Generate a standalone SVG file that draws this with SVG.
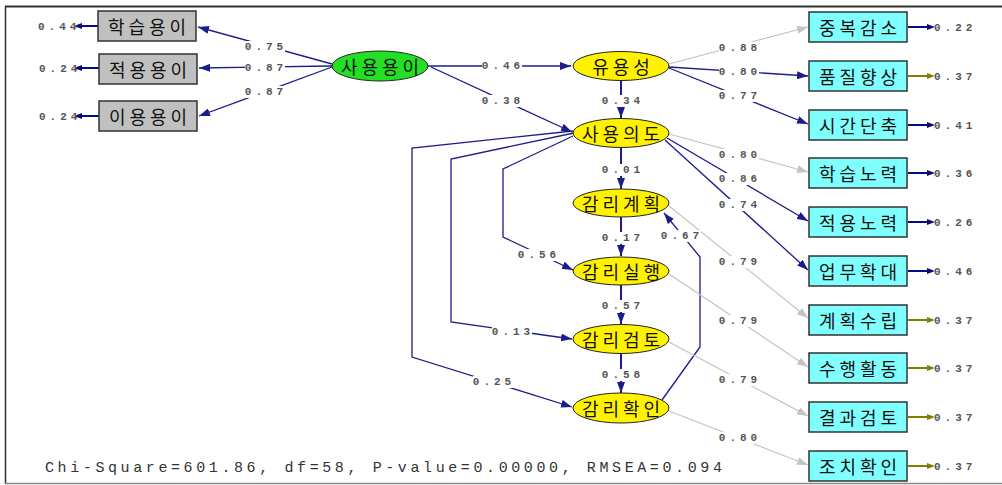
<svg xmlns="http://www.w3.org/2000/svg" width="1002" height="485" viewBox="0 0 1002 485">
<defs>
<style>
.ko{font-family:"Noto Sans CJK KR","Noto Sans",sans-serif;font-size:18px;letter-spacing:4px;text-anchor:middle;dominant-baseline:central;fill:#111}
.num{font-family:"Liberation Mono","DejaVu Sans Mono",monospace;font-size:11px;font-weight:bold;letter-spacing:4px;text-anchor:middle;dominant-baseline:central;fill:#555}
.err{font-family:"Liberation Mono","DejaVu Sans Mono",monospace;font-size:11px;font-weight:bold;letter-spacing:4px;dominant-baseline:central;fill:#555}
.bg{fill:#fff}
.box{fill:#80ffff;stroke:#333;stroke-width:1.5}
.gbox{fill:#c0c0c0;stroke:#333;stroke-width:1.5}
.ell{stroke:#222;stroke-width:1}
.nv{fill:none;stroke:#1c1c8c;stroke-width:1.3;marker-end:url(#an)}
.nvv{fill:none;stroke:#1c1c8c;stroke-width:2;marker-end:url(#an)}
.gr{fill:none;stroke:#c4c4c4;stroke-width:1.2;marker-end:url(#ag)}
.en{fill:none;stroke:#0a0a80;stroke-width:2;marker-end:url(#en)}
.eo{fill:none;stroke:#808000;stroke-width:2;marker-end:url(#eo)}
</style>
<marker id="an" markerUnits="userSpaceOnUse" markerWidth="12" markerHeight="8" refX="11" refY="4" orient="auto"><path d="M0,0 L11,4 L0,8 z" fill="#1c1c8c"/></marker>
<marker id="ag" markerUnits="userSpaceOnUse" markerWidth="12" markerHeight="8" refX="11" refY="4" orient="auto"><path d="M0,0 L11,4 L0,8 z" fill="#c4c4c4"/></marker>
<marker id="en" markerUnits="userSpaceOnUse" markerWidth="8" markerHeight="6" refX="4" refY="3" orient="auto"><path d="M0,0 L8,3 L0,6 z" fill="#0a0a80"/></marker>
<marker id="eo" markerUnits="userSpaceOnUse" markerWidth="8" markerHeight="6" refX="4" refY="3" orient="auto"><path d="M0,0 L8,3 L0,6 z" fill="#808000"/></marker>
</defs>
<rect width="1002" height="485" fill="#fff"/>
<g id="frame">
<line x1="5" y1="6.5" x2="1002" y2="6.5" stroke="#333" stroke-width="2"/>
<line x1="5.5" y1="6" x2="5.5" y2="484" stroke="#333" stroke-width="1.5"/>
<line x1="5" y1="483.5" x2="1002" y2="483.5" stroke="#888" stroke-width="1.5"/>
</g>
<g id="connectors">
<path class="nv" d="M332,64 L198,27"/>
<path class="nv" d="M332,66 L199,68"/>
<path class="nv" d="M332,67 L199,116"/>
<path class="nv" d="M428,66 L571,66"/>
<path class="nv" d="M431,67 L572,132"/>
<path class="nvv" d="M621,81 L621,118"/>
<path class="gr" d="M669,64 L808,27"/>
<path class="nv" d="M669,67 L808,76"/>
<path class="nv" d="M669,68 L808,124"/>
<path class="gr" d="M669,134 L808,172"/>
<path class="nv" d="M667,138 L808,221"/>
<path class="nv" d="M665,140 L808,270"/>
<path class="nvv" d="M621,148 L621,189"/>
<path class="nvv" d="M621,217 L621,256"/>
<path class="nvv" d="M621,285 L621,324"/>
<path class="nvv" d="M621,354 L621,393"/>
<path class="nv" d="M573,136 L503,169 L503,237 L573,270"/>
<path class="nv" d="M574,133 L451,159 L451,322 L572,339"/>
<path class="nv" d="M573,131 L412,148 L412,357 L572,407"/>
<path class="nv" d="M662,400 L700,347 L700,257 L664,213"/>
<path class="gr" d="M669,206 L808,318"/>
<path class="gr" d="M669,274 L808,367"/>
<path class="gr" d="M669,342 L808,416"/>
<path class="gr" d="M669,411 L808,465"/>
<path class="en" d="M98,26 L78,26"/>
<path class="en" d="M99,68 L78,68"/>
<path class="en" d="M99,116 L78,116"/>
<path class="en" d="M908,27 L931,27"/>
<path class="eo" d="M908,76 L931,76"/>
<path class="en" d="M908,125 L931,125"/>
<path class="en" d="M908,173 L931,173"/>
<path class="en" d="M908,222 L931,222"/>
<path class="en" d="M908,271 L931,271"/>
<path class="eo" d="M908,320 L931,320"/>
<path class="eo" d="M908,368 L931,368"/>
<path class="eo" d="M908,417 L931,417"/>
<path class="eo" d="M908,466 L931,466"/>
<rect class="bg" x="245" y="41" width="40" height="12"/>
<rect class="bg" x="245" y="62" width="40" height="12"/>
<rect class="bg" x="245" y="86" width="40" height="12"/>
<rect class="bg" x="482" y="60" width="40" height="12"/>
<rect class="bg" x="482" y="95" width="40" height="12"/>
<rect class="bg" x="602" y="95" width="40" height="12"/>
<rect class="bg" x="719" y="42" width="40" height="12"/>
<rect class="bg" x="719" y="66" width="40" height="12"/>
<rect class="bg" x="719" y="90" width="40" height="12"/>
<rect class="bg" x="719" y="149" width="40" height="12"/>
<rect class="bg" x="719" y="173" width="40" height="12"/>
<rect class="bg" x="719" y="199" width="40" height="12"/>
<rect class="bg" x="602" y="164" width="40" height="12"/>
<rect class="bg" x="602" y="232" width="40" height="12"/>
<rect class="bg" x="602" y="300" width="40" height="12"/>
<rect class="bg" x="602" y="369" width="40" height="12"/>
<rect class="bg" x="518" y="249" width="40" height="12"/>
<rect class="bg" x="492" y="326" width="40" height="12"/>
<rect class="bg" x="473" y="376" width="40" height="12"/>
<rect class="bg" x="661" y="230" width="40" height="12"/>
<rect class="bg" x="719" y="256" width="40" height="12"/>
<rect class="bg" x="719" y="315" width="40" height="12"/>
<rect class="bg" x="719" y="374" width="40" height="12"/>
<rect class="bg" x="719" y="432" width="40" height="12"/>
<text class="num" x="266" y="47">0.75</text>
<text class="num" x="266" y="68">0.87</text>
<text class="num" x="266" y="92">0.87</text>
<text class="num" x="503" y="66">0.46</text>
<text class="num" x="503" y="101">0.38</text>
<text class="num" x="623" y="101">0.34</text>
<text class="num" x="740" y="48">0.88</text>
<text class="num" x="740" y="72">0.80</text>
<text class="num" x="740" y="96">0.77</text>
<text class="num" x="740" y="155">0.80</text>
<text class="num" x="740" y="179">0.86</text>
<text class="num" x="740" y="205">0.74</text>
<text class="num" x="623" y="170">0.01</text>
<text class="num" x="623" y="238">0.17</text>
<text class="num" x="623" y="306">0.57</text>
<text class="num" x="623" y="375">0.58</text>
<text class="num" x="539" y="255">0.56</text>
<text class="num" x="513" y="332">0.13</text>
<text class="num" x="494" y="382">0.25</text>
<text class="num" x="682" y="236">0.67</text>
<text class="num" x="740" y="262">0.79</text>
<text class="num" x="740" y="321">0.79</text>
<text class="num" x="740" y="380">0.79</text>
<text class="num" x="740" y="438">0.80</text>
<text class="err" x="38" y="27">0.44</text>
<text class="err" x="39" y="69">0.24</text>
<text class="err" x="39" y="117">0.24</text>
<text class="err" x="934" y="28">0.22</text>
<text class="err" x="934" y="77">0.37</text>
<text class="err" x="934" y="126">0.41</text>
<text class="err" x="934" y="174">0.36</text>
<text class="err" x="934" y="223">0.26</text>
<text class="err" x="934" y="272">0.46</text>
<text class="err" x="934" y="321">0.37</text>
<text class="err" x="934" y="369">0.37</text>
<text class="err" x="934" y="418">0.37</text>
<text class="err" x="934" y="467">0.37</text>
</g>
<g id="n-hakseup"><rect class="gbox" x="98" y="11" width="98" height="30"/><text class="ko" x="149" y="26">학습용이</text></g>
<g id="n-jeogyong"><rect class="gbox" x="99" y="54" width="98" height="30"/><text class="ko" x="150" y="69">적용용이</text></g>
<g id="n-iyong"><rect class="gbox" x="99" y="101" width="98" height="30"/><text class="ko" x="150" y="116">이용용이</text></g>
<g id="n-sayongyongi"><ellipse class="ell" cx="380" cy="66" rx="48" ry="15" fill="#22e022"/><text class="ko" x="382" y="66">사용용이</text></g>
<g id="n-yuyongseong"><ellipse class="ell" cx="621" cy="66" rx="48" ry="14.5" fill="#fff200"/><text class="ko" x="623" y="66">유용성</text></g>
<g id="n-sayonguido"><ellipse class="ell" cx="621" cy="133" rx="48" ry="14.5" fill="#fff200"/><text class="ko" x="623" y="133">사용의도</text></g>
<g id="n-gyehoek"><ellipse class="ell" cx="621" cy="203" rx="48" ry="14" fill="#fff200"/><text class="ko" x="623" y="203">감리계획</text></g>
<g id="n-silhaeng"><ellipse class="ell" cx="621" cy="271" rx="48" ry="14" fill="#fff200"/><text class="ko" x="623" y="271">감리실행</text></g>
<g id="n-geomto"><ellipse class="ell" cx="621" cy="339" rx="48" ry="14.5" fill="#fff200"/><text class="ko" x="623" y="339">감리검토</text></g>
<g id="n-hwagin"><ellipse class="ell" cx="621" cy="408" rx="48" ry="15" fill="#fff200"/><text class="ko" x="623" y="408">감리확인</text></g>
<g id="n-r1"><rect class="box" x="809" y="12" width="98" height="30"/><text class="ko" x="860" y="27">중복감소</text></g>
<g id="n-r2"><rect class="box" x="809" y="61" width="98" height="30"/><text class="ko" x="860" y="76">품질향상</text></g>
<g id="n-r3"><rect class="box" x="809" y="110" width="98" height="30"/><text class="ko" x="860" y="125">시간단축</text></g>
<g id="n-r4"><rect class="box" x="809" y="158" width="98" height="30"/><text class="ko" x="860" y="173">학습노력</text></g>
<g id="n-r5"><rect class="box" x="809" y="207" width="98" height="30"/><text class="ko" x="860" y="222">적용노력</text></g>
<g id="n-r6"><rect class="box" x="809" y="256" width="98" height="30"/><text class="ko" x="860" y="271">업무확대</text></g>
<g id="n-r7"><rect class="box" x="809" y="305" width="98" height="30"/><text class="ko" x="860" y="320">계획수립</text></g>
<g id="n-r8"><rect class="box" x="809" y="353" width="98" height="30"/><text class="ko" x="860" y="368">수행활동</text></g>
<g id="n-r9"><rect class="box" x="809" y="402" width="98" height="30"/><text class="ko" x="860" y="417">결과검토</text></g>
<g id="n-r10"><rect class="box" x="809" y="451" width="98" height="30"/><text class="ko" x="860" y="466">조치확인</text></g>
<text x="45" y="472" font-family="Liberation Mono, monospace" font-size="15" letter-spacing="3.6" fill="#333">Chi-Square=601.86, df=58, P-value=0.00000, RMSEA=0.094</text>
</svg>
